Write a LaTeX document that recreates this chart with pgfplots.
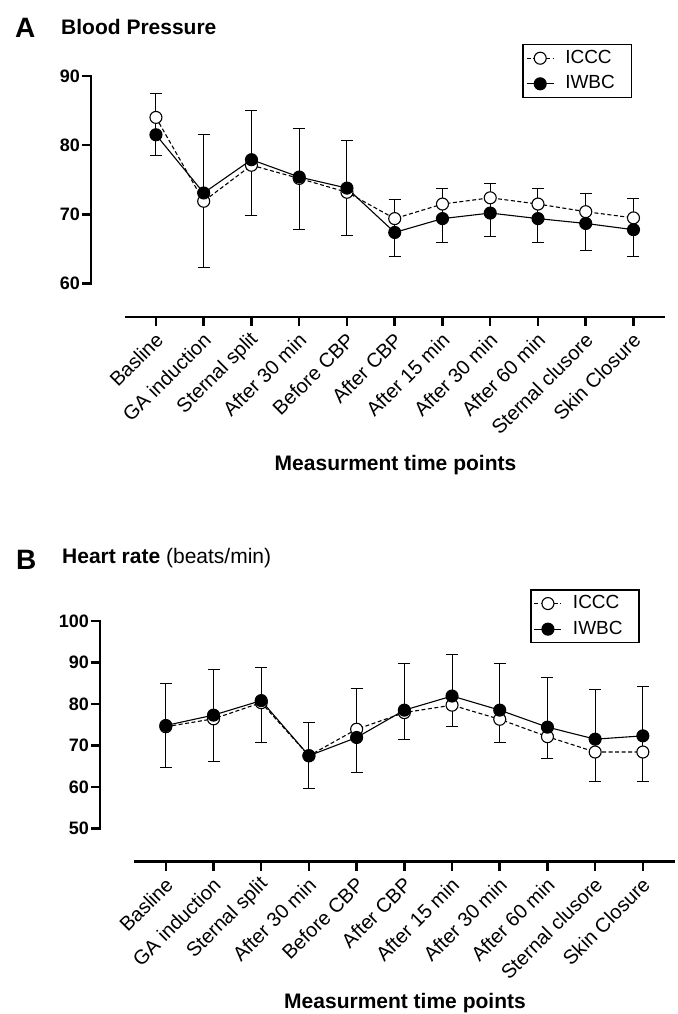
\documentclass[border=0pt]{standalone}
\usepackage{fontspec}
\setmainfont{Liberation Sans}
\usepackage{pgfplots}
\usepackage{pgfplotstable}
\pgfplotsset{compat=1.18}

\newcommand\fs[1]{\fontsize{#1pt}{#1pt}\selectfont}

% Blood pressure: means of both groups, error bar low/high
\pgfplotstableread{
x iccc iwbc lo hi
0  84.0 81.5 78.5 87.4
1  71.9 73.1 62.4 81.5
2  77.1 77.9 69.9 85.0
3  75.2 75.4 67.8 82.4
4  73.2 73.8 66.9 80.6
5  69.4 67.4 63.9 72.2
6  71.5 69.4 66.0 73.7
7  72.4 70.2 66.8 74.5
8  71.5 69.4 66.0 73.7
9  70.4 68.7 64.8 73.0
10 69.5 67.8 63.9 72.3
}\bpdata

% Heart rate
\pgfplotstableread{
x iccc iwbc lo hi
0  74.5 74.8 64.7 85.0
1  76.4 77.3 66.2 88.3
2  80.3 80.8 70.6 88.8
3  67.5 67.5 59.5 75.6
4  73.9 71.9 63.5 83.7
5  77.9 78.5 71.5 89.7
6  79.7 81.9 74.5 91.9
7  76.3 78.5 70.7 89.7
8  72.1 74.4 66.8 86.3
9  68.4 71.5 61.4 83.4
10 68.4 72.3 61.3 84.1
}\hrdata

\pgfplotsset{
  prism/.style={
    scale only axis, clip=false,
    axis x line*=bottom, axis y line*=left,
    axis line style={draw=none},
    tick align=outside, major tick length=9pt,
    major tick style={line width=2.5pt, black},
    xtick={0,...,10},
    xticklabels={Basline, GA induction, Sternal split, After 30 min, Before CBP,
                  After CBP, After 15 min, After 30 min, After 60 min,
                  Sternal clusore, Skin Closure},
    xticklabel style={font=\fs{20}, xshift=5pt, yshift=-9pt, rotate=45,
                      anchor=east, inner sep=2pt},
    yticklabel style={font=\fs{18}\bfseries, inner sep=2pt},
    /pgf/number format/assume math mode=true,
    legend image code/.code={
      \draw[mark repeat=2, mark phase=2, #1]
        plot coordinates {(0pt,0pt) (13.5pt,0pt) (27pt,0pt)};
      \path (36pt,0pt);},
    legend style={anchor=north east, draw=black, line width=1.5pt,
                  font=\fs{19}, inner xsep=3pt, inner ysep=3pt, row sep=4.6pt,
                  nodes={inner sep=2pt, font=\fs{19}, text height=13.5pt, text depth=3.5pt},
                  /tikz/every odd column/.append style={column sep=0pt},
                  /tikz/every even column/.append style={nodes={text width=61pt}}},
    legend cell align=left,
  },
  barsonly/.style={draw=none, mark=none, forget plot,
    error bars/.cd, y dir=both, y explicit,
    error bar style={draw=black, line width=1pt},
    error mark options={draw=black, rotate=90, mark size=6pt, line width=1pt}},
  iccc/.style={black, line width=1.1pt, dash pattern=on 4pt off 2.5pt,
    mark=*, mark size=6pt, mark options={solid, fill=white, line width=1.1pt}},
  iwbc/.style={black, line width=1.1pt, mark=*, mark size=6pt,
    mark options={fill=black}},
}

\begin{document}
\begin{tikzpicture}
\useasboundingbox (0,0) rectangle (677pt,-1014pt);

% A: blood pressure
\begin{axis}[prism, at={(91pt,-317pt)}, anchor=south west,
    width=574pt, height=275.8pt,
    xmin=-1.36, xmax=10.66, ymin=55.2, ymax=95, ytick={60,70,80,90},
    legend style={at={(axis description cs:0.9425,0.99)}}]
  \draw[line width=2.5pt, line cap=rect] (axis cs:-1.36,60) -- (axis cs:-1.36,90);
  \draw[line width=2.5pt] (axis cs:-0.65,55.2) -- (axis cs:10.66,55.2);
  \addplot[barsonly] table[x=x, y expr={(\thisrow{hi}+\thisrow{lo})/2},
      y error expr={(\thisrow{hi}-\thisrow{lo})/2}] {\bpdata};
  \addplot[iccc] table[x=x, y=iccc] {\bpdata};
  \addplot[iwbc] table[x=x, y=iwbc] {\bpdata};
  \legend{ICCC, IWBC}
\end{axis}

% B: heart rate
\begin{axis}[prism, at={(100pt,-861.7pt)}, anchor=south west,
    width=574.8pt, height=273.9pt,
    xmin=-1.38, xmax=10.67, ymin=41.95, ymax=108, ytick={50,60,70,80,90,100},
    legend style={at={(axis description cs:0.939,0.9945)}}]
  \draw[line width=2.5pt, line cap=rect] (axis cs:-1.38,50) -- (axis cs:-1.38,100);
  \draw[line width=2.5pt] (axis cs:-0.67,41.95) -- (axis cs:10.67,41.95);
  \addplot[barsonly] table[x=x, y expr={(\thisrow{hi}+\thisrow{lo})/2},
      y error expr={(\thisrow{hi}-\thisrow{lo})/2}] {\hrdata};
  \addplot[iccc] table[x=x, y=iccc] {\hrdata};
  \addplot[iwbc] table[x=x, y=iwbc] {\hrdata};
  \legend{ICCC, IWBC}
\end{axis}

% titles
\node[anchor=base west, inner sep=0, font=\fs{28}\bfseries] at (15pt,-38pt) {A};
\node[anchor=base west, inner sep=0, font=\fs{21}\bfseries] at (61pt,-35pt) {Blood Pressure};
\node[anchor=base, inner sep=0, font=\fs{21}\bfseries] at (395.5pt,-470pt) {Measurment time points};
\node[anchor=base west, inner sep=0, font=\fs{28}\bfseries] at (16pt,-569pt) {B};
\node[anchor=base west, inner sep=0, font=\fs{21}] at (62pt,-563pt) {\textbf{Heart rate} (beats/min)};
\node[anchor=base, inner sep=0, font=\fs{21}\bfseries] at (405pt,-1008pt) {Measurment time points};
\end{tikzpicture}
\end{document}
